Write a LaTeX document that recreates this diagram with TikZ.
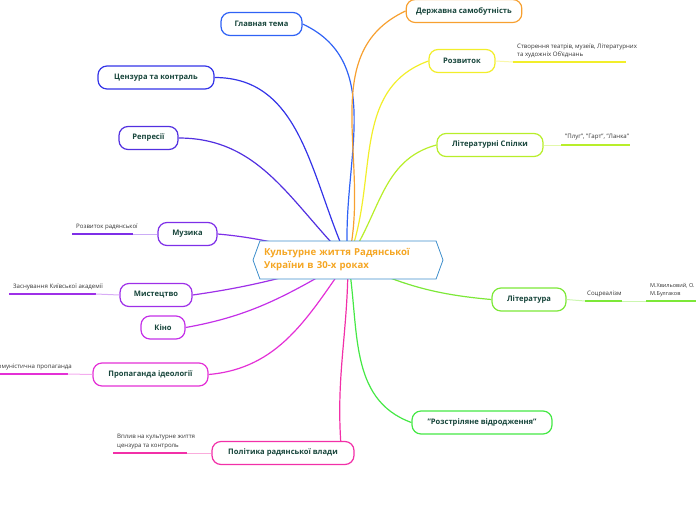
\documentclass[tikz,border=0pt]{standalone}
\usepackage{fontspec}
\setmainfont{Open Sans}
\usetikzlibrary{shapes.symbols, backgrounds}
\definecolor{hubline}{HTML}{3F8FCC}
\definecolor{hubtext}{HTML}{F5A623}
\definecolor{nodetext}{HTML}{17453B}
\definecolor{leaftext}{HTML}{333333}
\definecolor{cGlav}{HTML}{2F62F5}
\definecolor{cCenz}{HTML}{3434E8}
\definecolor{cRepr}{HTML}{5230E0}
\definecolor{cMuz}{HTML}{7E2FE8}
\definecolor{cMyst}{HTML}{9E30E8}
\definecolor{cKino}{HTML}{C430E8}
\definecolor{cProp}{HTML}{E430D6}
\definecolor{cPol}{HTML}{F230A8}
\definecolor{cDerzh}{HTML}{F7A030}
\definecolor{cRozv}{HTML}{F2EE2A}
\definecolor{cSpil}{HTML}{B8EE2A}
\definecolor{cLit}{HTML}{7CE838}
\definecolor{cRozstr}{HTML}{45E845}
\tikzset{
  hub/.style={signal, signal to=west and east, signal pointer angle=140, draw=hubline, fill=white, line width=0.8pt, minimum width=190pt, minimum height=38pt, text width=168pt, align=left, text=hubtext, font=\fontsize{9.6}{13}\selectfont\bfseries},
  topic/.style={draw=#1, fill=white, rounded corners=9pt, line width=1.2pt, minimum height=23pt, inner xsep=10pt, text=nodetext, font=\fontsize{7.6}{9}\selectfont\bfseries},
  conn/.style={draw=#1, line width=1.2pt},
  leaf/.style={inner sep=1pt, text=leaftext, font=\fontsize{6.1}{8.5}\selectfont, align=left},
  uline/.style={draw=#1, line width=2pt},
  twig/.style={draw=#1!40, line width=1pt},
}
\begin{document}
\begin{tikzpicture}[x=1pt, y=-1pt]
  \useasboundingbox (0,0) rectangle (696,520);
  % central topic
  \node[hub] (hub) at (348,260) {Культурне життя Радянської\\України в 30-х роках};

  % left branches
  \node[topic=cGlav, minimum width=81pt] (glav) at (261.5,24) {Главная тема};
  \node[topic=cCenz, minimum width=116pt] (cenz) at (156,77.5) {Цензура та контраль};
  \node[topic=cRepr, minimum width=59pt] (repr) at (148.5,138) {Репресії};
  \node[topic=cMuz, minimum width=59pt] (muz) at (187.5,234) {Музика};
  \node[topic=cMyst, minimum width=72pt] (myst) at (156,295) {Мистецтво};
  \node[topic=cKino, minimum width=44pt] (kino) at (163,327.5) {Кіно};
  \node[topic=cProp, minimum width=115pt] (prop) at (150.5,374.5) {Пропаганда ідеології};
  \node[topic=cPol, minimum width=142pt] (pol) at (283,453) {Політика радянської влади};

  % right branches
  \node[topic=cDerzh, minimum width=100pt] (derzh) at (464,11) {Державна самобутність};
  \node[topic=cRozv, minimum width=66pt] (rozv) at (462,61) {Розвиток};
  \node[topic=cSpil, minimum width=106pt] (spil) at (490,145) {Літературні Спілки};
  \node[topic=cLit, minimum width=74pt] (lit) at (529,299.5) {Література};
  \node[topic=cRozstr, minimum width=140pt] (rozstr) at (482,422.5) {"Розстріляне відродження"};

  % leaves
  \node[leaf, anchor=west] (rozvL) at (516,51) {Створення театрів, музеїв, Літературних\\та художніх Об'єднань};
  \coordinate (rozvU) at (513,62);
  \node[leaf, anchor=west] (spilL) at (564,137) {"Плуг", "Гарт", "Ланка"};
  \coordinate (spilU) at (561,145);
  \node[leaf, anchor=west] (muzL) at (75,227) {Розвиток радянської};
  \coordinate (muzU) at (72,234);
  \node[leaf, anchor=west] (mystL) at (12,287) {Заснування Київської академії};
  \coordinate (mystU) at (9,294);
  \node[leaf, anchor=east] (propL) at (73,367) {Комуністична пропаганда};
  \coordinate (propU) at (0,374);
  \node[leaf, anchor=west] (polL) at (116,441.5) {Вплив на культурне життя\\цензура та контроль};
  \coordinate (polU) at (113,453);
  \node[leaf, anchor=west] (litL) at (586,294) {Соцреалізм};
  \coordinate (litU) at (585,301);
  \node[leaf, anchor=west, font=\fontsize{5.5}{8.5}\selectfont] (lit2L) at (649,290) {М.Хвильовий, О.\\М.Булгаков};
  \coordinate (lit2U) at (646,301);

  % underlines
  \draw[uline=cRozv] (rozvU) -- +(113,0);
  \draw[uline=cSpil] (spilU) -- +(69,0);
  \draw[uline=cMuz] (muzU) -- +(61,0);
  \draw[uline=cMyst] (mystU) -- +(87,0);
  \draw[uline=cProp] (propU) -- +(68,0);
  \draw[uline=cPol] (polU) -- +(74,0);
  \draw[uline=cLit] (litU) -- +(37,0);
  \draw[uline=cLit] (lit2U) -- +(60,0);

  % twigs to leaves
  \draw[twig=cRozv] (rozv.east) -- (rozvU);
  \draw[twig=cSpil] (spil.east) -- (spilU);
  \draw[twig=cMuz] (muz.west) -- ([xshift=61pt]muzU);
  \draw[twig=cMyst] (myst.west) -- ([xshift=87pt]mystU);
  \draw[twig=cProp] (prop.west) -- ([xshift=68pt]propU);
  \draw[twig=cPol] (pol.west) -- ([xshift=74pt]polU);
  \draw[twig=cLit] (lit.east) -- (litU);
  \draw[twig=cLit] ([xshift=37pt]litU) -- (lit2U);

  % connections
  \begin{scope}[on background layer]
    \draw[conn=cGlav] (hub.center) to[out=95, in=-25] (glav.east);
    \draw[conn=cCenz] (hub.center) to[out=115, in=0] (cenz.east);
    \draw[conn=cRepr] (hub.center) to[out=135, in=0] (repr.east);
    \draw[conn=cMuz] (hub.center) to[out=168, in=-5] (muz.east);
    \draw[conn=cMyst] (hub.center) to[out=195, in=8] (myst.east);
    \draw[conn=cKino] (hub.center) to[out=210, in=10] (kino.east);
    \draw[conn=cProp] (hub.center) to[out=235, in=5] (prop.east);
    \draw[conn=cPol] (hub.center) to[out=-90, in=95] ([xshift=-13pt]pol.east);
    \draw[conn=cDerzh] (hub.center) to[out=76, in=205] (derzh.west);
    \draw[conn=cRozv] (hub.center) to[out=68, in=200] (rozv.west);
    \draw[conn=cSpil] (hub.center) to[out=55, in=195] (spil.west);
    \draw[conn=cLit] (hub.center) to[out=-25, in=175] (lit.west);
    \draw[conn=cRozstr] (hub.center) to[out=-80, in=160] (rozstr.west);
  \end{scope}
\end{tikzpicture}
\end{document}
